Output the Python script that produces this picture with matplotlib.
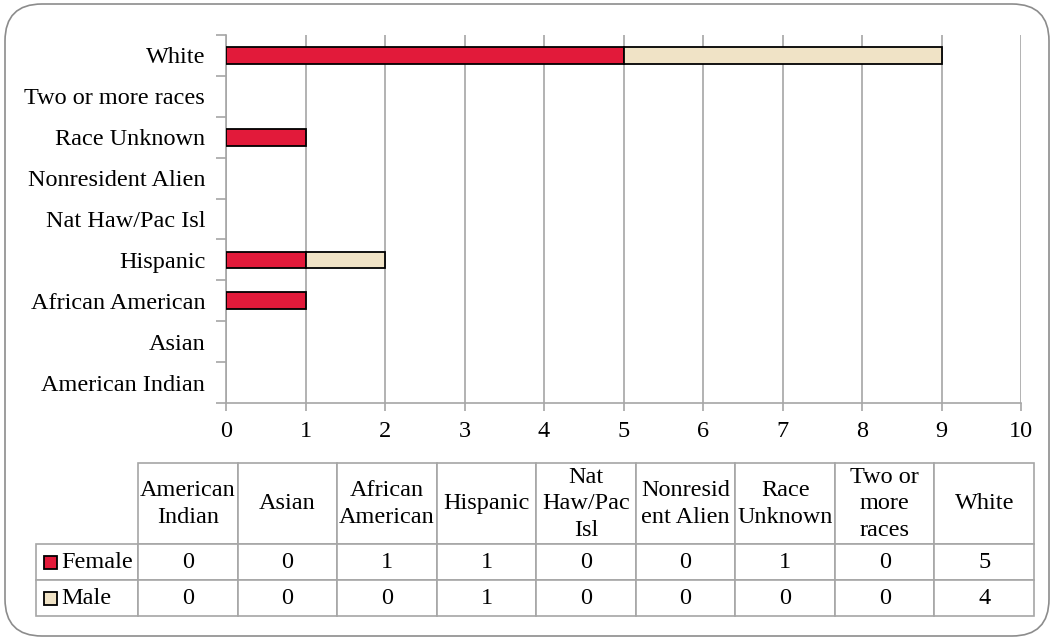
import matplotlib
matplotlib.use("Agg")
import matplotlib.pyplot as plt
from matplotlib.patches import FancyBboxPatch, Rectangle

# data
races = ["American Indian", "Asian", "African American", "Hispanic",
         "Nat Haw/Pac Isl", "Nonresident Alien", "Race Unknown",
         "Two or more races", "White"]
table_headers = ["American\nIndian", "Asian", "African\nAmerican", "Hispanic",
                 "Nat\nHaw/Pac\nIsl", "Nonresid\nent Alien", "Race\nUnknown",
                 "Two or\nmore\nraces", "White"]
female = [0, 0, 1, 1, 0, 0, 1, 0, 5]
male = [0, 0, 0, 1, 0, 0, 0, 0, 4]
series = ["Female", "Male"]
colors = ["#E21A3A", "#F0E3C6"]

plt.rcParams["font.family"] = ["Liberation Serif", "DejaVu Serif"]
fs = 17.5
grid_c = "#a6a6a6"

W, H = 1054, 640
fig = plt.figure(figsize=(W / 100, H / 100), dpi=100)

# rounded frame around the whole chart
frame = FancyBboxPatch((5 / W, 4 / H), 1044 / W, 632 / H,
                       boxstyle="round,pad=0,rounding_size=0.035",
                       transform=fig.transFigure, fill=False,
                       edgecolor="#8c8c8c", linewidth=1.2, mutation_aspect=W / H)
fig.patches.append(frame)

# bar chart
ax = fig.add_axes([226 / W, 1 - 403 / H, (1021 - 226) / W, (403 - 35) / H])
y = list(range(len(races)))
lw_f = [1.3 if v > 0 else 0 for v in female]
lw_m = [1.3 if v > 0 else 0 for v in male]
ax.barh(y, female, height=0.41, color=colors[0], edgecolor="black", linewidth=lw_f, zorder=3)
ax.barh(y, male, left=female, height=0.41, color=colors[1], edgecolor="black", linewidth=lw_m, zorder=3)

ax.set_xlim(0, 10)
ax.set_ylim(-0.5, len(races) - 0.5)
ax.set_xticks(range(11))
ax.set_yticks(y)
ax.set_yticklabels(races, fontsize=fs)
ax.set_yticks([i - 0.5 for i in range(len(races) + 1)], minor=True)
ax.tick_params(axis="y", which="major", length=0, pad=15)
ax.tick_params(axis="y", which="minor", length=7, color=grid_c, width=1.2)
ax.tick_params(axis="x", length=6, color=grid_c, width=1.2, labelsize=fs, pad=7)
ax.grid(axis="x", color=grid_c, linewidth=1.2, zorder=0)
for s in ["top", "right"]:
    ax.spines[s].set_visible(False)
for s in ["left", "bottom"]:
    ax.spines[s].set_color(grid_c)
    ax.spines[s].set_linewidth(1.2)

# data table
tax = fig.add_axes([36 / W, 1 - 616 / H, (1034 - 36) / W, (616 - 463) / H])
tax.axis("off")
cell_text = [[s] + [str(v) for v in vals] for s, vals in zip(series, [female, male])]
tbl = tax.table(cellText=cell_text, colLabels=[""] + table_headers,
                cellLoc="center", bbox=[0, 0, 1, 1])
tbl.auto_set_font_size(False)
head_h, row_h = 82, 36
first_w, col_w = 102, 99.5
for (r, c), cell in tbl.get_celld().items():
    cell.set_edgecolor(grid_c)
    cell.set_linewidth(1.2)
    cell.set_height(head_h if r == 0 else row_h)
    cell.set_width(first_w if c == 0 else col_w)
    cell.get_text().set_fontsize(fs)
    if r == 0:
        cell.get_text().set_linespacing(1.35)
    if r == 0 and c == 0:
        cell.visible_edges = ""
    if r > 0 and c == 0:
        cell.get_text().set_ha("left")
        cell._loc = "left"
        cell.PAD = 0.25

# legend swatches in the first column
total_h = head_h + 2 * row_h
total_w = first_w + 9 * col_w
sq = 13
for i, col in enumerate(colors):
    cy = 1 - (head_h + row_h * (i + 0.5)) / total_h
    tax.add_patch(Rectangle((8 / total_w, cy - sq / 2 / total_h), sq / total_w, sq / total_h,
                            transform=tax.transAxes, facecolor=col,
                            edgecolor="black", linewidth=1.3, zorder=5))

fig.savefig("out.png", dpi=100)
